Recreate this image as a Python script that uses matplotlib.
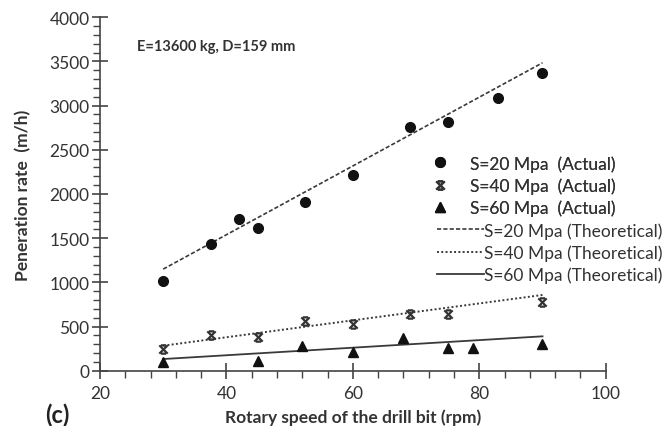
import matplotlib
matplotlib.use("Agg")
import matplotlib.pyplot as plt
from matplotlib.path import Path
from matplotlib.ticker import MultipleLocator

plt.rcParams['font.family'] = ['Lato', 'DejaVu Sans']

# ---- data ----
rpm_20 = [30, 37.5, 42, 45, 52.5, 60, 69, 75, 83, 90]
rate_20 = [1015, 1430, 1720, 1610, 1905, 2215, 2760, 2810, 3085, 3365]
rpm_40 = [30, 37.5, 45, 52.5, 60, 69, 75, 90]
rate_40 = [245, 405, 378, 565, 528, 645, 645, 780]
rpm_60 = [30, 45, 52, 60, 68, 75, 79, 90]
rate_60 = [100, 113, 283, 215, 365, 262, 253, 302]

theo_rpm = [30, 90]
theo_20 = [1150, 3485]
theo_40 = [283, 857]
theo_60 = [132, 389]

labels_actual = ["S=20 Mpa  (Actual)", "S=40 Mpa  (Actual)", "S=60 Mpa  (Actual)"]
labels_theo = ["S=20 Mpa (Theoretical)", "S=40 Mpa (Theoretical)", "S=60 Mpa (Theoretical)"]

W, H = 669, 427
fig = plt.figure(figsize=(W / 100, H / 100), dpi=100)
ax = fig.add_axes([100 / W, 1 - 371.7 / H, 505.7 / W, 353.4 / H])

xmark = Path([(-1, 1), (1, -1), (-1, -1), (1, 1), (-0.6, 1), (0.6, 1), (-0.6, -1), (0.6, -1)],
             [Path.MOVETO, Path.LINETO, Path.MOVETO, Path.LINETO,
              Path.MOVETO, Path.LINETO, Path.MOVETO, Path.LINETO])

lc = '#3a3a3a'
l20, = ax.plot(theo_rpm, theo_20, color=lc, lw=1.2, ls=(0, (2.5, 1.3)))
l40, = ax.plot(theo_rpm, theo_40, color=lc, lw=1.4, ls=(0, (1, 1.2)))
l60, = ax.plot(theo_rpm, theo_60, color=lc, lw=1.3, ls='-')

p20, = ax.plot(rpm_20, rate_20, 'o', color='#111111', ms=7, ls='none')
p40, = ax.plot(rpm_40, rate_40, marker=xmark, color='#333333', ms=6, mew=1.6, ls='none')
p60, = ax.plot(rpm_60, rate_60, '^', color='#111111', ms=7, ls='none')

ax.set_xlim(20, 100)
ax.set_ylim(0, 4000)
ax.xaxis.set_major_locator(MultipleLocator(20))
ax.xaxis.set_minor_locator(MultipleLocator(4))
ax.yaxis.set_major_locator(MultipleLocator(500))
ax.yaxis.set_minor_locator(MultipleLocator(100))

for s in ['top', 'right']:
    ax.spines[s].set_visible(False)
for s in ['left', 'bottom']:
    ax.spines[s].set_color('#444444')
    ax.spines[s].set_linewidth(1.2)
ax.tick_params(which='major', direction='inout', length=11, width=1.2, color='#444444',
               labelsize=12.5, labelcolor='#333333', pad=2)
ax.tick_params(which='minor', direction='out', length=5, width=1.0, color='#444444')
ax.tick_params(axis='x', which='major', pad=5)

ax.set_xlabel("Rotary speed of the drill bit (rpm)", fontsize=12.5, fontweight='bold',
              color='#333333', labelpad=5)
ax.set_ylabel("Peneration rate  (m/h)", fontsize=12.5, fontweight='bold',
              color='#333333', labelpad=13)

fig.text(137 / W, 1 - 47 / H, "E=13600 kg, D=159 mm", fontsize=10.5, fontweight='bold',
         color='#333333', va='center', ha='left')
fig.text(45 / W, 1 - 415 / H, "(c)", fontsize=17, fontweight='bold',
         color='#222222', va='center', ha='left')

leg1 = fig.legend([p20, p40, p60], labels_actual, loc='upper left',
                  bbox_to_anchor=(430 / W, 1 - 156 / H), frameon=False, fontsize=12.5,
                  handlelength=1.2, handletextpad=1.1, borderpad=0, borderaxespad=0,
                  labelspacing=0.33, labelcolor='#333333')
fig.legend([l20, l40, l60], labels_theo, loc='upper left',
           bbox_to_anchor=(437 / W, 1 - 223 / H), frameon=False, fontsize=12.5,
           handlelength=2.7, handletextpad=0.0, borderpad=0, borderaxespad=0,
           labelspacing=0.33, labelcolor='#333333')
fig.add_artist(leg1)

fig.savefig("out.png", dpi=100)
